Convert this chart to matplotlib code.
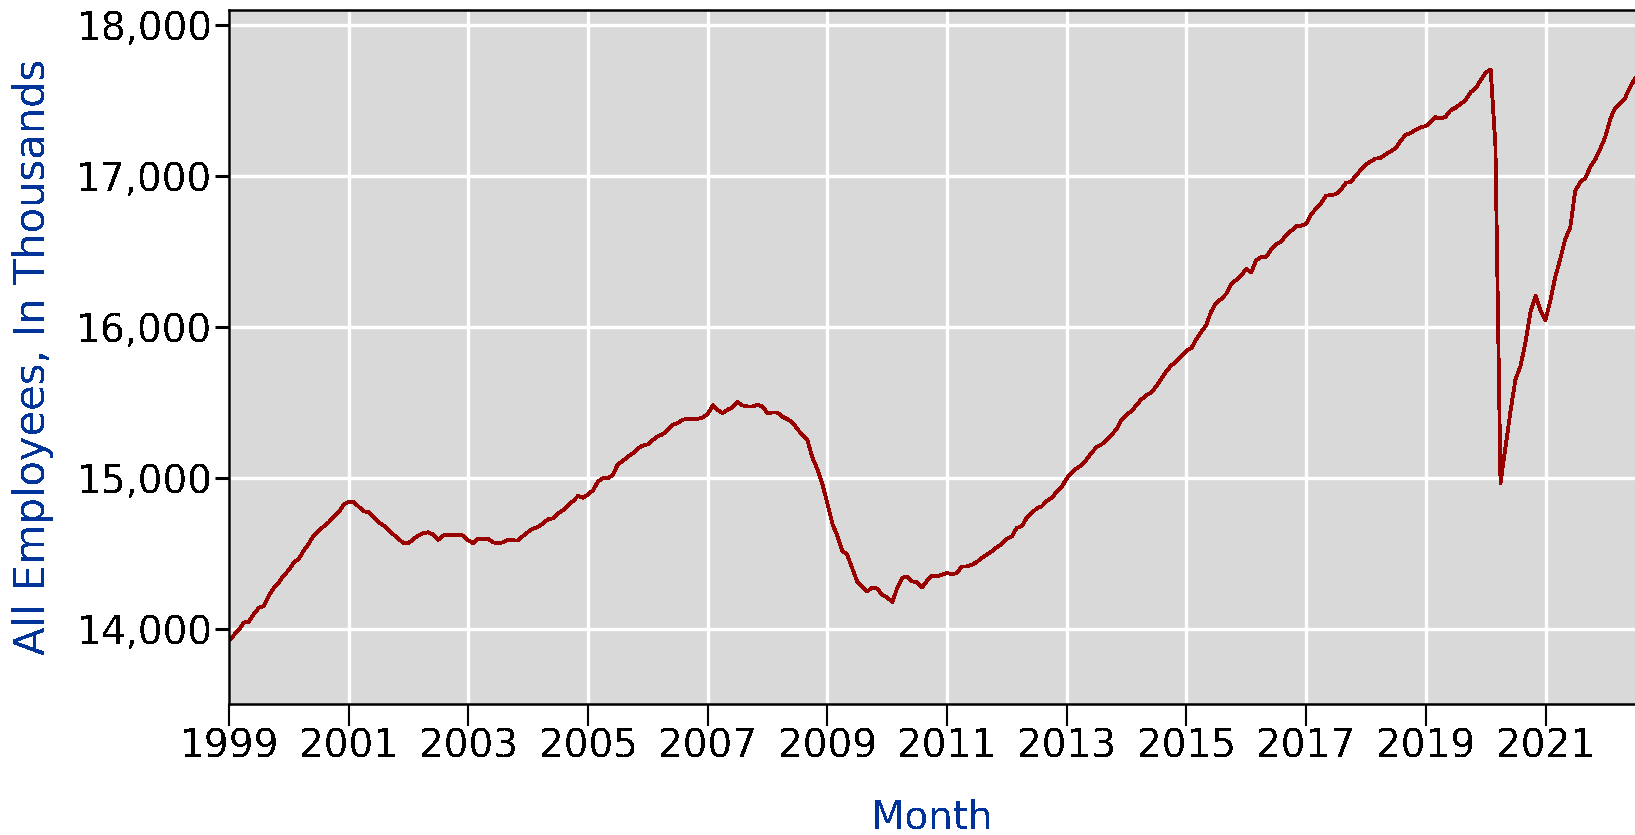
import matplotlib
matplotlib.use("Agg")
import matplotlib.pyplot as plt
import pandas as pd
from matplotlib.ticker import FuncFormatter

# monthly values, thousands of employees, Jan 1999 - Jul 2022 (one row per year)
emp_1999_2002 = [
    13920, 13958, 13989, 14040, 14045, 14096, 14136, 14151, 14218, 14269, 14306, 14351,
    14388, 14439, 14461, 14517, 14561, 14617, 14650, 14677, 14705, 14739, 14772, 14823,
    14838, 14838, 14810, 14778, 14772, 14743, 14705, 14683, 14655, 14623, 14595, 14566,
    14566, 14595, 14617, 14632, 14638, 14623, 14588, 14617, 14623, 14617, 14623, 14617,
]
emp_2003_2006 = [
    14583, 14566, 14595, 14595, 14595, 14572, 14566, 14572, 14590, 14585, 14583, 14614,
    14641, 14663, 14674, 14696, 14725, 14730, 14763, 14785, 14818, 14845, 14880, 14867,
    14889, 14918, 14973, 14996, 14996, 15018, 15089, 15111, 15140, 15162, 15195, 15213,
    15222, 15251, 15273, 15288, 15317, 15351, 15361, 15384, 15390, 15390, 15390, 15399,
]
emp_2007_2010 = [
    15421, 15480, 15450, 15428, 15450, 15466, 15501, 15479, 15472, 15472, 15484, 15472,
    15428, 15432, 15432, 15404, 15388, 15366, 15322, 15284, 15248, 15133, 15055, 14956,
    14827, 14690, 14619, 14517, 14490, 14401, 14313, 14279, 14246, 14273, 14264, 14224,
    14206, 14175, 14264, 14335, 14346, 14313, 14308, 14273, 14317, 14352, 14346, 14357,
]
emp_2011_2014 = [
    14368, 14361, 14368, 14412, 14412, 14423, 14441, 14468, 14490, 14512, 14539, 14561,
    14596, 14612, 14667, 14678, 14734, 14767, 14796, 14811, 14845, 14867, 14907, 14940,
    14996, 15035, 15062, 15084, 15120, 15165, 15203, 15221, 15248, 15284, 15323, 15384,
    15418, 15442, 15481, 15519, 15546, 15566, 15605, 15655, 15706, 15745, 15770, 15803,
]
emp_2015_2018 = [
    15842, 15860, 15916, 15966, 16011, 16101, 16158, 16185, 16219, 16282, 16311, 16338,
    16384, 16361, 16440, 16463, 16463, 16512, 16548, 16564, 16609, 16636, 16666, 16670,
    16684, 16745, 16783, 16819, 16869, 16873, 16880, 16909, 16955, 16960, 17005, 17040,
    17075, 17098, 17115, 17120, 17144, 17163, 17184, 17235, 17272, 17285, 17307, 17322,
]
emp_2019_2022 = [
    17331, 17357, 17389, 17380, 17392, 17435, 17452, 17476, 17503, 17555, 17580, 17634,
    17685, 17705, 17200, 14965, 15200, 15440, 15650, 15740, 15900, 16100, 16205, 16110,
    16045, 16180, 16330, 16450, 16580, 16660, 16900, 16960, 16985, 17060, 17110, 17180,
    17260, 17380, 17450, 17480, 17515, 17590, 17645,
]

tick_years = list(range(1999, 2022, 2))
ytick_values = [14000, 15000, 16000, 17000, 18000]

employees = (emp_1999_2002 + emp_2003_2006 + emp_2007_2010
             + emp_2011_2014 + emp_2015_2018 + emp_2019_2022)
months = pd.date_range("1999-01-01", periods=len(employees), freq="MS")

plt.rcParams["font.family"] = "DejaVu Sans"
plt.rcParams["text.antialiased"] = False

W, H = 1635, 835
fig = plt.figure(figsize=(W / 100, H / 100), dpi=100)
ax = fig.add_axes([229 / W, 1 - 704 / H, (W - 229) / W, (704 - 10) / H])
ax.set_facecolor("#d9d9d9")

ax.plot(months, employees, color="#990000", lw=2.0, antialiased=False)

ax.set_xlim(months[0], months[-1])
ax.set_ylim(13500, 18100)
ax.set_yticks(ytick_values)
ax.yaxis.set_major_formatter(FuncFormatter(lambda v, p: f"{v:,.0f}"))
ax.set_xticks(pd.to_datetime([f"{y}-01-01" for y in tick_years]))
ax.set_xticklabels([str(y) for y in tick_years])

ax.grid(color="white", lw=2.4)
ax.set_axisbelow(True)
for side in ["left", "top", "bottom"]:
    ax.spines[side].set_linewidth(1.8)
    ax.spines[side].set_color("black")
ax.spines["right"].set_visible(False)

ax.tick_params(axis="y", length=10, width=2.2, labelsize=28, pad=2)
ax.tick_params(axis="x", length=16, width=1.5, labelsize=28, pad=1)

ax.set_ylabel("All Employees, In Thousands", color="#003399", fontsize=30, va="center")
ax.yaxis.set_label_coords(-0.1394, 0.5)
ax.set_xlabel("Month", color="#003399", fontsize=28, va="center")
ax.xaxis.set_label_coords(0.5, -0.163)

fig.savefig("out.png", dpi=100)
